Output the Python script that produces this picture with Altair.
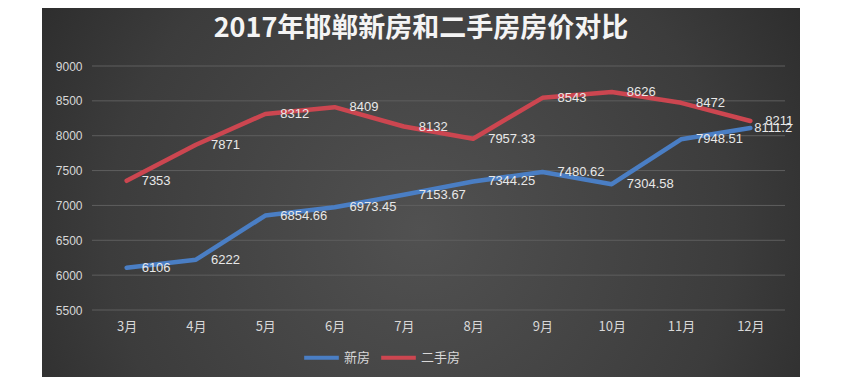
import altair as alt
import pandas as pd

months = ["3月", "4月", "5月", "6月", "7月", "8月", "9月", "10月", "11月", "12月"]
new_house = [6106, 6222, 6854.66, 6973.45, 7153.67, 7344.25, 7480.62, 7304.58, 7948.51, 8111.2]
second_hand = [7353, 7871, 8312, 8409, 8132, 7957.33, 8543, 8626, 8472, 8211]
series_names = ["新房", "二手房"]
series_colors = ["#4a7ec4", "#cc4650"]
y_ticks = [5500, 6000, 6500, 7000, 7500, 8000, 8500, 9000]
title_text = "2017年邯郸新房和二手房房价对比"

rows = []
for i, m in enumerate(months):
    rows.append({"month": m, "series": series_names[0], "value": new_house[i], "idx": i})
    rows.append({"month": m, "series": series_names[1], "value": second_hand[i], "idx": i})
df = pd.DataFrame(rows)

W, H = 693, 244
num_font = "Liberation Sans, Noto Sans CJK SC"
cjk_font = "Noto Sans CJK SC"

y_scale = alt.Scale(domain=[5500, 9000], nice=False, zero=False)

x_enc = alt.X("month:N", sort=months, scale=alt.Scale(type="point", padding=0.5),
              axis=alt.Axis(title=None, labelFont=cjk_font, labelFontSize=13,
                            labelColor="#d8d8d8", labelPadding=10, ticks=False,
                            domain=False, grid=False, labelAngle=0, zindex=1))
y_axis = alt.Axis(title=None, values=y_ticks, format="d", labelOverlap=False,
                  labelFont=num_font, labelFontSize=12,
                  labelColor="#d8d8d8", labelPadding=10, ticks=False,
                  domain=False, grid=False, zindex=1)
y_enc = alt.Y("value:Q", scale=y_scale, axis=y_axis)
color_enc = alt.Color("series:N", scale=alt.Scale(domain=series_names, range=series_colors),
                      legend=alt.Legend(title=None, orient="none", legendX=210, legendY=272,
                                        direction="horizontal", symbolType="stroke",
                                        symbolSize=1200, symbolStrokeWidth=4,
                                        labelFont=cjk_font, labelFontSize=13,
                                        labelColor="#d8d8d8", columnPadding=2,
                                        labelOffset=3, zindex=1))

bg = alt.Chart(pd.DataFrame({"a": [0]})).mark_rect(
    color=alt.Gradient(gradient="radial", x1=0.5, y1=0.55, r1=0.0, x2=0.5, y2=0.55, r2=0.75,
                       stops=[alt.GradientStop(color="#515151", offset=0),
                              alt.GradientStop(color="#3c3c3c", offset=0.55),
                              alt.GradientStop(color="#1f1f1f", offset=1)])
).encode(x=alt.value(-50), x2=alt.value(708), y=alt.value(-66), y2=alt.value(319))

title_df = pd.DataFrame({"t": [title_text]})
title_mark = alt.Chart(title_df).mark_text(
    font=cjk_font, fontSize=27, fontWeight="bold", color="#f4f4f4",
    align="center", baseline="middle"
).encode(text="t:N", x=alt.value(329), y=alt.value(-37))

grid = alt.Chart(pd.DataFrame({"v": y_ticks})).mark_rule(color="#5e5e5e", strokeWidth=1).encode(
    y=alt.Y("v:Q", scale=y_scale, axis=y_axis)
)

lines = alt.Chart(df).mark_line(strokeWidth=4.5, strokeCap="round", strokeJoin="round").encode(
    x=x_enc, y=y_enc, color=color_enc, detail="series:N"
)

labels = alt.Chart(df).mark_text(align="left", baseline="middle", dx=15, font=num_font,
                                 fontSize=13, color="#e8e8e8").encode(
    x=x_enc, y=y_enc,
    text=alt.Text("value:Q", format=".6~g")
).transform_filter("!(datum.series == '新房' && datum.idx == 9)")

last_label = alt.Chart(df).mark_text(align="left", baseline="middle", dx=4, font=num_font,
                                     fontSize=13, color="#e8e8e8").encode(
    x=x_enc, y=y_enc,
    text=alt.Text("value:Q", format=".6~g")
).transform_filter("datum.series == '新房' && datum.idx == 9")

chart = alt.layer(bg, title_mark, grid, lines, labels, last_label).properties(
    width=W, height=H,
    autosize=alt.AutoSizeParams(type="none"),
    padding={"left": 84, "top": 58, "right": 40, "bottom": 67},
    background="white",
).configure_view(stroke=None)

chart.save("out.html", embed_options={"renderer": "svg", "actions": False})
